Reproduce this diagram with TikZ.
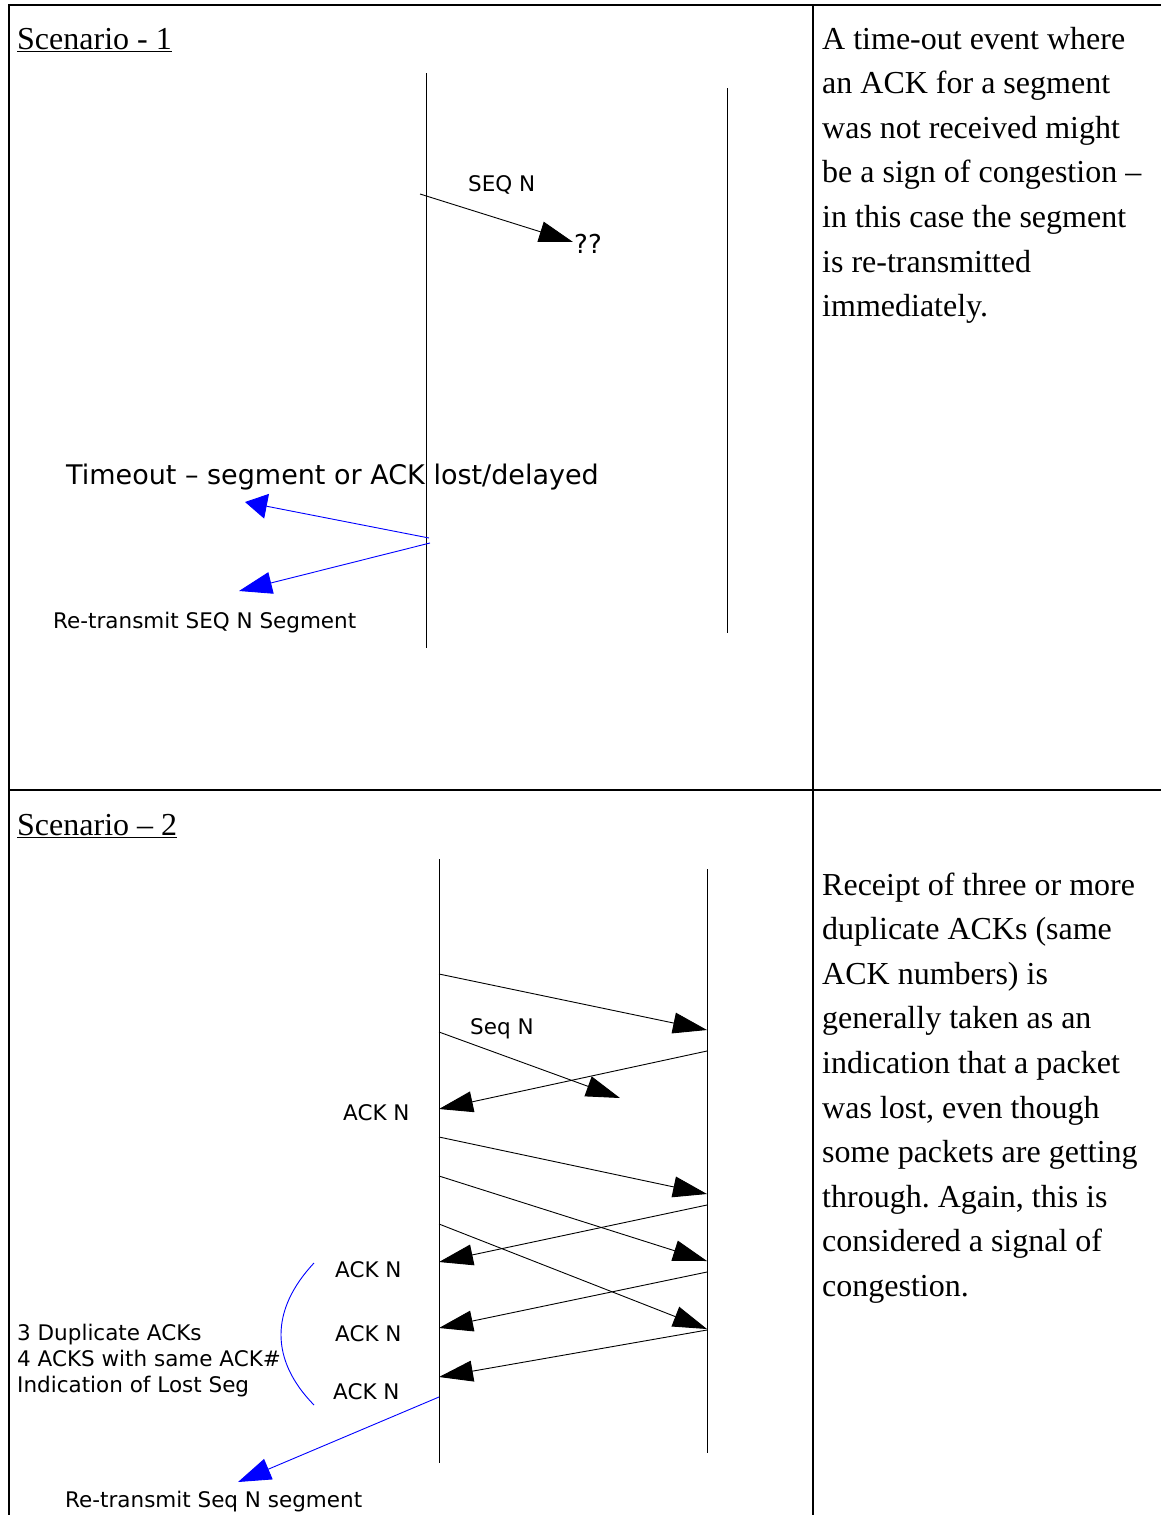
\documentclass[tikz,border=0pt]{standalone}
\usepackage{fontspec}
\setmainfont{Liberation Serif}
\newfontfamily\sansf{DejaVu Sans}
\usetikzlibrary{arrows.meta}
\frenchspacing
\begin{document}
\begin{tikzpicture}[x=1pt,y=-1pt,
  frame/.style={line width=1.4pt},
  life/.style={line width=1pt},
  msg/.style={line width=0.9pt,-{Triangle[length=34pt,width=21pt]}},
  bmsg/.style={blue,line width=0.9pt,-{Triangle[length=33pt,width=22pt]}},
  serif/.style={inner sep=0pt,anchor=base west,font=\fontsize{32}{44.5}\selectfont},
  lbl/.style={inner sep=0pt,anchor=base west,font=\sansf\fontsize{21.5}{26}\selectfont},
  big/.style={inner sep=0pt,anchor=base west,font=\sansf\fontsize{27}{32}\selectfont},
]
\useasboundingbox (0,0) rectangle (1161,1515);
% table frame
\draw[frame] (1161,5) -- (9,5) -- (9,1515);
\draw[frame] (813,5) -- (813,1515);
\draw[frame] (9,790) -- (1161,790);

% headings
\node[serif] (h1) at (17,49) {\underline{Scenario - 1}};
\node[serif] (h2) at (17,835) {\underline{Scenario – 2}};

% right-column text, scenario 1
\foreach \t [count=\i] in {A time-out event where, an ACK for a segment, was not received might,
  be a sign of congestion –, in this case the segment, is re-transmitted, immediately.}
  \node[serif] (ra\i) at (822,{49+44.6*(\i-1)}) {\t};

% right-column text, scenario 2
\foreach \t [count=\i] in {Receipt of three or more, duplicate ACKs (same, ACK numbers) is,
  generally taken as an, indication that a packet, {was lost, even though},
  some packets are getting, {through. Again, this is}, considered a signal of, congestion.}
  \node[serif] (rb\i) at (822,{895+44.6*(\i-1)}) {\t};

% ---------------- Scenario 1 ----------------
\coordinate (s1at) at (426,73);  \coordinate (s1ab) at (426,648);
\coordinate (s1bt) at (727,88);  \coordinate (s1bb) at (727,633);
\node[lbl] (seqn) at (468,191) {SEQ N};
\node[inner sep=0pt,anchor=base west,font=\sansf\fontsize{26}{30}\selectfont] (qq) at (574,253) {??};
\node[big] (tout) at (66,484) {Timeout – segment or ACK lost/delayed};
\node[lbl] (rt1) at (53,628) {Re-transmit SEQ N Segment};
\draw[life] (s1at) -- (s1ab);
\draw[life] (s1bt) -- (s1bb);
\coordinate (m1s) at (420,194); \coordinate (m1e) at (573,242);
\draw[msg] (m1s) -- (m1e);
\coordinate (b1s) at (429,538); \coordinate (b1e) at (245,502);
\coordinate (b2s) at (430,543); \coordinate (b2e) at (239,591);
\draw[blue,line width=0.9pt,-{Triangle[length=22pt,width=25pt]}] (b1s) -- (b1e);
\draw[bmsg] (b2s) -- (b2e);

% ---------------- Scenario 2 ----------------
\coordinate (s2at) at (439,859);  \coordinate (s2ab) at (439,1463);
\coordinate (s2bt) at (707,869);  \coordinate (s2bb) at (707,1453);
\draw[life] (s2at) -- (s2ab);
\draw[life] (s2bt) -- (s2bb);

\node[lbl] (seqn2) at (470,1034) {Seq N};
\node[lbl] (ack1) at (343,1120) {ACK N};
\node[lbl] (ack2) at (335,1277) {ACK N};
\node[lbl] (ack3) at (335,1341) {ACK N};
\node[lbl] (ack4) at (333,1399) {ACK N};
\node[lbl] (dup1) at (17,1340) {3 Duplicate ACKs};
\node[lbl] (dup2) at (17,1366) {4 ACKS with same ACK\#};
\node[lbl] (dup3) at (17,1392) {Indication of Lost Seg};
\node[lbl] (rt2) at (65,1507) {Re-transmit Seq N segment};

\coordinate (a1s) at (439,974);  \coordinate (a1e) at (707,1030);
\coordinate (a2s) at (439,1032); \coordinate (a2e) at (620,1098);
\coordinate (a3s) at (707,1051); \coordinate (a3e) at (439,1109);
\coordinate (a4s) at (439,1137); \coordinate (a4e) at (707,1194);
\coordinate (a5s) at (439,1176); \coordinate (a5e) at (707,1261);
\coordinate (a6s) at (707,1205); \coordinate (a6e) at (439,1262);
\coordinate (a7s) at (439,1224); \coordinate (a7e) at (707,1329);
\coordinate (a8s) at (707,1272); \coordinate (a8e) at (439,1328);
\coordinate (a9s) at (707,1330); \coordinate (a9e) at (439,1377);
\foreach \k in {1,...,9} \draw[msg] (a\k s) -- (a\k e);

\coordinate (b3s) at (439,1397); \coordinate (b3e) at (238,1482);
\draw[bmsg] (b3s) -- (b3e);

\coordinate (arcT) at (314,1263); \coordinate (arcB) at (314,1405);
\draw[blue,line width=0.9pt] (arcT) .. controls (270,1310) and (270,1360) .. (arcB);
\end{tikzpicture}
\end{document}
